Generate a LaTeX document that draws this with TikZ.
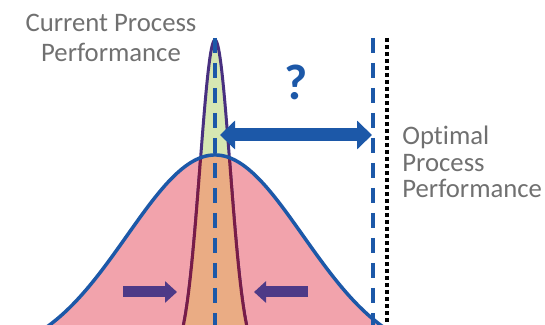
\documentclass[tikz,border=0pt]{standalone}
\usepackage{fontspec}
\setmainfont{Carlito}[Ligatures=NoCommon]
\usetikzlibrary{arrows.meta}

\definecolor{wideFill}{RGB}{242,163,172}
\definecolor{narrowFill}{RGB}{214,231,178}
\definecolor{overlapFill}{RGB}{234,172,132}
\definecolor{curveBlue}{RGB}{28,88,168}
\definecolor{narrowTop}{RGB}{72,48,128}
\definecolor{narrowLow}{RGB}{120,28,72}
\definecolor{squeezePurple}{RGB}{78,58,135}
\definecolor{textGray}{RGB}{112,112,112}

\tikzset{
  caption/.style={text=textGray, inner sep=0pt},
  guide/.style={line width=1.75pt, dash pattern=on 7.5pt off 5pt},
  squeeze/.style={squeezePurple, line width=5.5pt,
    -{Triangle[length=6pt, width=10.5pt]}}
}

\begin{document}
\begin{tikzpicture}[x=0.5pt, y=-0.5pt]
\useasboundingbox (0,0) rectangle (545,325);

% bell curves in pixel units, y grows downward
% both share the same base line, the wide one is the current spread
\def\base{360}
\def\wideS{88}
\def\narrowS{15}

\begin{scope}
\clip (0,0) rectangle (545,325);
% current spread
\fill[wideFill] plot[domain=20:410, samples=160]
  (\x,{\base-205*exp(-0.5*((\x-215)/\wideS)^2)}) -- cycle;
% target spread
\fill[narrowFill] plot[domain=168:262, samples=120]
  (\x,{\base-320*exp(-0.5*((\x-215)/\narrowS)^2)}) -- cycle;
\draw[narrowTop, line width=1.5pt] plot[domain=168:262, samples=120]
  (\x,{\base-320*exp(-0.5*((\x-215)/\narrowS)^2)});
% where the two overlap
\begin{scope}
\clip plot[domain=20:410, samples=160]
  (\x,{\base-205*exp(-0.5*((\x-215)/\wideS)^2)}) -- cycle;
\fill[overlapFill] plot[domain=168:262, samples=120]
  (\x,{\base-320*exp(-0.5*((\x-215)/\narrowS)^2)}) -- cycle;
\draw[narrowLow, line width=1.5pt] plot[domain=168:262, samples=120]
  (\x,{\base-320*exp(-0.5*((\x-215)/\narrowS)^2)});
\end{scope}
\draw[curveBlue, line width=1.75pt] plot[domain=20:410, samples=160]
  (\x,{\base-205*exp(-0.5*((\x-215)/\wideS)^2)});
\end{scope}

% mean lines
\coordinate (meanTop) at (215,38);
\coordinate (meanBot) at (215,325);
\coordinate (optTop) at (373,38);
\coordinate (optBot) at (373,325);
\coordinate (limTop) at (387,38);
\coordinate (limBot) at (387,325);
\draw[curveBlue, guide] (meanTop) -- (meanBot);
\draw[curveBlue, guide] (optTop) -- (optBot);
\draw[black, line width=2pt, dash pattern=on 2pt off 1.5pt] (limTop) -- (limBot);

% gap between current and optimal
\coordinate (gapL) at (220,135);
\coordinate (gapR) at (372,135);
\draw[curveBlue, line width=6.5pt,
  {Triangle[length=7.5pt, width=14pt]}-{Triangle[length=7.5pt, width=14pt]}]
  (gapL) -- (gapR);
\node[curveBlue, font=\bfseries\fontsize{25pt}{30pt}\selectfont, anchor=base]
  (question) at (296,100) {?};

% squeezing the spread
\coordinate (sqLfrom) at (123,292);
\coordinate (sqLto) at (177,292);
\coordinate (sqRfrom) at (308,292);
\coordinate (sqRto) at (254,292);
\draw[squeeze] (sqLfrom) -- (sqLto);
\draw[squeeze] (sqRfrom) -- (sqRto);

% captions (base anchor sits on the last line)
\node[caption, font=\fontsize{13.35pt}{15pt}\selectfont, align=center, anchor=base]
  (current) at (111,62) {Current Process\\Performance};
\node[caption, font=\fontsize{13.35pt}{13.25pt}\selectfont, align=left, anchor=base west]
  (optimal) at (402,198) {Optimal\\Process\\Performance};

\end{tikzpicture}
\end{document}
